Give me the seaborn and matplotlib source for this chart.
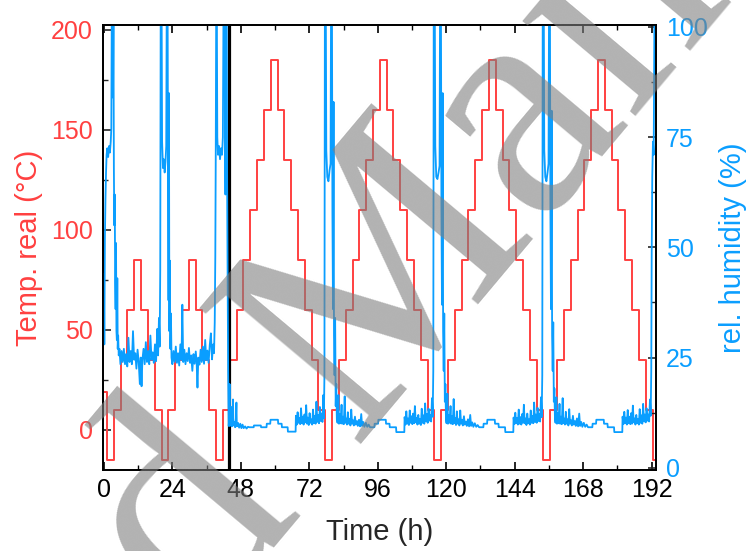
import numpy as np
import pandas as pd
import matplotlib
matplotlib.use("Agg")
import matplotlib.pyplot as plt
from matplotlib.ticker import MultipleLocator
import seaborn as sns

# temperature programme: setpoints (degC) held for a fixed dwell
temp_start_h = [0.0, 1.2]
temp_start_c = [19, -15]
first_step_h = 3.49
step_h = 2.39
small_cycle_c = [10, 35, 60, 85, 60, 35, 10, -15]
big_cycle_c = [10, 35, 60, 85, 110, 135, 160, 185, 160, 135, 110, 85, 60, 35, 10, -15]
end_h = 194.5

# relative humidity (%), (hour, value)
hum_small = [
    (0.0, 44), (0.15, 28), (0.35, 52), (0.55, 61), (0.75, 67), (0.95, 71), (1.2, 72.5), (1.5, 70.5),
    (1.8, 73), (2.1, 71.5), (2.4, 74), (2.6, 77), (2.75, 101), (3.05, 101), (3.2, 84), (3.35, 101),
    (3.5, 68), (3.65, 55), (3.8, 62), (3.95, 42), (4.1, 36), (4.25, 51), (4.4, 31), (4.55, 29),
    (4.7, 43), (4.85, 27), (5.0, 30), (5.2, 25.5), (5.45, 27),
    (5.8, 23.5), (6.2, 26.5), (6.6, 24), (7.0, 27), (7.4, 23.5), (7.8, 25.8), (8.2, 23), (8.6, 29.5),
    (9.0, 24), (9.4, 26.5), (9.8, 23.5), (10.2, 31), (10.6, 24.5), (11.0, 26), (11.4, 22.5), (11.8, 26.8),
    (12.2, 24), (12.6, 19), (12.9, 25), (13.2, 18.5), (13.5, 24.5), (13.9, 27), (14.3, 23.5), (14.7, 28.5),
    (15.1, 24), (15.5, 26.5), (15.9, 23.5), (16.3, 30), (16.7, 24.5), (17.1, 26.2), (17.5, 23.8), (17.9, 28),
    (18.3, 24.2), (18.7, 31.5), (19.0, 25.5), (19.3, 34), (19.55, 27.5),
    (19.75, 45), (19.9, 101), (20.25, 101), (20.4, 74), (20.7, 68), (21.0, 70), (21.3, 67), (21.6, 69.5),
    (21.85, 73), (22.0, 101), (22.35, 101), (22.5, 62), (22.65, 38), (22.8, 85), (22.95, 31), (23.1, 47),
    (23.3, 27), (23.5, 35), (23.7, 25),
    (24.0, 23.5), (24.4, 26.5), (24.8, 24), (25.2, 27.5), (25.6, 23.8), (26.0, 26), (26.4, 23.2), (26.8, 28),
    (27.2, 24.5), (27.5, 37), (27.8, 24), (28.2, 26.8), (28.6, 23.5), (29.0, 26), (29.4, 24.2), (29.8, 27.2),
    (30.2, 23.8), (30.6, 25.5), (31.0, 22), (31.4, 25.8), (31.8, 23.6), (32.2, 26.4), (32.5, 24), (32.8, 18.2),
    (33.1, 25), (33.5, 23.4), (33.9, 26.8), (34.3, 24), (34.7, 27.5), (35.1, 23.6), (35.5, 29), (35.9, 24.4),
    (36.3, 26.6), (36.7, 23.8), (37.1, 27.8), (37.5, 30.5), (37.9, 24.6), (38.3, 28), (38.6, 26),
    (38.85, 33), (39.05, 48), (39.2, 70), (39.35, 101), (39.6, 101), (39.75, 75), (40.0, 71), (40.35, 73),
    (40.7, 70), (41.05, 72.5), (41.4, 71), (41.7, 75), (41.9, 101), (42.3, 101), (42.45, 78), (42.6, 62),
    (42.8, 101), (43.05, 101), (43.2, 64), (43.4, 40), (43.55, 22), (43.75, 9.5),
]
hum_cycle1 = [
    (43.9, 11), (44.05, 19), (44.2, 9.5), (44.5, 10.8), (44.7, 13.8), (44.85, 9.4), (45.1, 10.5), (45.25, 15.5),
    (45.4, 9.6), (45.7, 10.4), (46.0, 9.2), (46.3, 11.5), (46.45, 14.8), (46.6, 9.4), (47.0, 10.2), (47.4, 9.1),
    (47.8, 10.0), (48.2, 9.0), (48.6, 9.8), (49.0, 9.0), (49.5, 9.4), (50.0, 8.9), (50.5, 9.3),
    (51.0, 9.2), (52.5, 9.2), (52.6, 9.6), (55.0, 9.6), (55.1, 9.2), (57.0, 9.2), (57.1, 10.0), (58.3, 10.0),
    (58.4, 10.9), (61.0, 10.9), (61.1, 10.0), (62.3, 10.0), (62.4, 9.2), (64.4, 9.2), (64.5, 8.2), (67.2, 8.2),
    (67.3, 11.8), (67.6, 9.8), (67.9, 12.6), (68.2, 10.2), (68.5, 11.3), (68.8, 9.9), (69.1, 13.5), (69.4, 10.1),
    (69.7, 11.6), (70.0, 9.8), (70.3, 12.1), (70.6, 10.3), (70.9, 14.2), (71.2, 10.0), (71.5, 11.4), (71.8, 9.7),
    (72.1, 12.4), (72.4, 10.2), (72.7, 11.0), (73.0, 9.8), (73.3, 13.2), (73.6, 10.1), (73.9, 11.8), (74.2, 10.0),
    (74.5, 15.0), (74.8, 10.4), (75.1, 12.0), (75.4, 10.1), (75.7, 13.8), (76.0, 10.6), (76.3, 12.3), (76.6, 10.4),
    (76.9, 16.5), (77.1, 11.2),
    (77.3, 21), (77.45, 101), (77.8, 101), (77.95, 72), (78.3, 66), (78.7, 65), (79.1, 67.5), (79.45, 69),
    (79.6, 101), (79.95, 101), (80.1, 58), (80.3, 36), (80.5, 83), (80.65, 30), (80.85, 21), (81.05, 34),
    (81.25, 14), (81.45, 19), (81.65, 11),
]
hum_cycle2 = [
    (81.9, 10.2), (82.2, 16.5), (82.4, 10.0), (82.7, 12.2), (83.0, 10.1), (83.3, 14.3), (83.5, 10.0), (83.8, 11.6),
    (84.1, 9.9), (84.4, 16.2), (84.6, 10.2), (84.9, 11.2), (85.2, 9.8), (85.5, 12.6), (85.8, 10.0), (86.1, 11.1),
    (86.4, 9.6), (86.7, 13.2), (87.0, 10.0), (87.3, 10.8), (87.6, 9.6), (88.0, 11.6), (88.3, 9.8), (88.7, 10.6),
    (89.0, 9.5), (89.4, 10.9), (89.8, 9.4), (90.2, 12.2), (90.5, 9.5), (90.9, 10.4), (91.3, 9.3), (91.8, 10.2),
    (92.3, 9.3), (92.8, 9.8),
    (93.3, 9.2), (94.8, 9.2), (94.9, 10.0), (96.1, 10.0), (96.2, 10.9), (98.8, 10.9), (98.9, 10.0), (100.1, 10.0),
    (100.2, 9.2), (102.4, 9.2), (102.5, 8.1), (105.3, 8.1),
    (105.4, 11.5), (105.7, 9.8), (106.0, 12.8), (106.3, 10.0), (106.6, 11.2), (106.9, 9.7), (107.2, 13.0), (107.5, 10.2),
    (107.8, 11.7), (108.1, 9.9), (108.4, 12.3), (108.7, 10.1), (109.0, 14.0), (109.3, 10.3), (109.6, 11.3), (109.9, 9.8),
    (110.2, 12.0), (110.5, 10.0), (110.8, 11.1), (111.1, 9.7), (111.4, 13.4), (111.7, 10.2), (112.0, 11.9), (112.3, 10.0),
    (112.6, 14.6), (112.9, 10.5), (113.2, 12.2), (113.5, 10.2), (113.8, 13.4), (114.1, 10.7), (114.4, 12.0), (114.7, 10.5),
    (115.0, 15.8), (115.25, 11.6),
    (115.45, 22), (115.6, 101), (116.0, 101), (116.15, 73), (116.5, 66), (116.9, 65.5), (117.3, 67), (117.65, 68.5),
    (117.8, 101), (118.15, 101), (118.3, 60), (118.5, 37), (118.75, 85), (118.9, 31), (119.1, 22), (119.3, 35),
    (119.5, 15), (119.7, 19), (119.9, 11),
]
hum_cycle3 = [
    (120.1, 10.1), (120.4, 16.8), (120.6, 10.0), (120.9, 12.0), (121.2, 10.2), (121.5, 14.0), (121.7, 10.0), (122.0, 11.8),
    (122.3, 9.9), (122.6, 15.6), (122.8, 10.1), (123.1, 11.3), (123.4, 9.7), (123.7, 12.8), (124.0, 10.0), (124.3, 11.0),
    (124.6, 9.6), (124.9, 13.0), (125.2, 10.0), (125.5, 10.9), (125.8, 9.6), (126.2, 11.7), (126.5, 9.8), (126.9, 10.5),
    (127.2, 9.5), (127.6, 11.0), (128.0, 9.4), (128.4, 12.0), (128.7, 9.5), (129.1, 10.3), (129.5, 9.3), (130.0, 10.1),
    (130.5, 9.3), (131.0, 9.7),
    (131.5, 9.2), (133.0, 9.2), (133.1, 10.0), (134.3, 10.0), (134.4, 10.9), (137.0, 10.9), (137.1, 10.0), (138.3, 10.0),
    (138.4, 9.2), (140.6, 9.2), (140.7, 8.1), (143.5, 8.1),
    (143.6, 11.4), (143.9, 9.9), (144.2, 12.5), (144.5, 10.1), (144.8, 11.3), (145.1, 9.8), (145.4, 13.2), (145.7, 10.0),
    (146.0, 11.5), (146.3, 9.8), (146.6, 12.2), (146.9, 10.2), (147.2, 14.3), (147.5, 10.1), (147.8, 11.2), (148.1, 9.7),
    (148.4, 12.3), (148.7, 10.1), (149.0, 11.0), (149.3, 9.8), (149.6, 13.0), (149.9, 10.2), (150.2, 11.8), (150.5, 10.1),
    (150.8, 14.8), (151.1, 10.4), (151.4, 12.1), (151.7, 10.2), (152.0, 13.6), (152.3, 10.6), (152.6, 12.2), (152.9, 10.5),
    (153.2, 16.0), (153.45, 11.5),
    (153.65, 21), (153.8, 101), (154.2, 101), (154.35, 72), (154.7, 66), (155.1, 65), (155.5, 67), (155.85, 69),
    (156.0, 101), (156.35, 101), (156.5, 59), (156.7, 36), (156.95, 81), (157.1, 30), (157.3, 22), (157.5, 33),
    (157.7, 15), (157.9, 18), (158.1, 11),
]
hum_cycle4 = [
    (158.3, 10.2), (158.6, 16.0), (158.8, 10.0), (159.1, 12.4), (159.4, 10.1), (159.7, 14.5), (159.9, 10.0), (160.2, 11.6),
    (160.5, 9.9), (160.8, 15.8), (161.0, 10.1), (161.3, 11.2), (161.6, 9.8), (161.9, 12.7), (162.2, 10.0), (162.5, 11.0),
    (162.8, 9.6), (163.1, 13.3), (163.4, 10.0), (163.7, 10.8), (164.0, 9.6), (164.4, 11.8), (164.7, 9.8), (165.1, 10.6),
    (165.4, 9.5), (165.8, 11.2), (166.2, 9.4), (166.6, 12.3), (166.9, 9.5), (167.3, 10.4), (167.7, 9.3), (168.2, 10.2),
    (168.7, 9.3), (169.2, 9.8),
    (169.7, 9.2), (171.2, 9.2), (171.3, 10.0), (172.5, 10.0), (172.6, 10.9), (175.2, 10.9), (175.3, 10.0), (176.5, 10.0),
    (176.6, 9.2), (178.8, 9.2), (178.9, 8.1), (181.7, 8.1),
    (181.8, 11.6), (182.1, 9.9), (182.4, 12.7), (182.7, 10.1), (183.0, 11.4), (183.3, 9.8), (183.6, 13.1), (183.9, 10.1),
    (184.2, 11.6), (184.5, 9.9), (184.8, 12.4), (185.1, 10.0), (185.4, 14.1), (185.7, 10.3), (186.0, 11.2), (186.3, 9.8),
    (186.6, 12.0), (186.9, 10.1), (187.2, 11.1), (187.5, 9.8), (187.8, 13.3), (188.1, 10.2), (188.4, 11.9), (188.7, 10.0),
    (189.0, 14.5), (189.3, 10.5), (189.6, 12.1), (189.9, 10.3), (190.2, 13.5), (190.5, 10.7), (190.8, 12.1), (191.1, 10.5),
    (191.4, 15.5), (191.65, 11.8),
    (191.85, 22), (192.0, 48), (192.2, 66), (192.45, 74), (192.7, 71), (192.95, 101), (193.3, 101), (193.6, 101),
]

phase_change_h = 43.7
x_ticks = [0, 24, 48, 72, 96, 120, 144, 168, 192]
temp_ticks = [0, 50, 100, 150, 200]
hum_ticks = [0, 25, 50, 75, 100]

RED = "#FF4040"
BLUE = "#0A9EFF"

# build the step profile
setpoints = small_cycle_c * 2 + big_cycle_c * 4
step_starts = first_step_h + step_h * np.arange(len(setpoints))
temp = pd.DataFrame({
    "time": temp_start_h + list(step_starts) + [end_h],
    "temp": temp_start_c + setpoints + [setpoints[-1]],
})
hum = pd.DataFrame(hum_small + hum_cycle1 + hum_cycle2 + hum_cycle3 + hum_cycle4,
                   columns=["time", "rh"])

sns.set_theme(style="ticks")
plt.rcParams["font.family"] = ["Liberation Sans", "DejaVu Sans"]

fig = plt.figure(figsize=(7.5, 5.51), dpi=100)
ax = fig.add_axes([0.137, 0.147, 0.738, 0.808])
ax2 = ax.twinx()

sns.lineplot(data=temp, x="time", y="temp", ax=ax, color=RED, lw=1.4,
             drawstyle="steps-post", estimator=None, sort=False)
sns.lineplot(data=hum, x="time", y="rh", ax=ax2, color=BLUE, lw=1.3,
             estimator=None, sort=False)
ax.axvline(phase_change_h, color="black", lw=2.3, zorder=5)

ax.set_xlim(-0.4, 193.6)
ax.set_ylim(-20, 202.5)
ax2.set_ylim(-0.5, 100.5)

ax.set_xticks(x_ticks)
ax.xaxis.set_minor_locator(MultipleLocator(12))
ax.set_yticks(temp_ticks)
ax.yaxis.set_minor_locator(MultipleLocator(25))
ax2.set_yticks(hum_ticks)
ax2.yaxis.set_minor_locator(MultipleLocator(12.5))

ax.tick_params(axis="x", which="both", direction="in", top=True, labelsize=18, colors="black", pad=6)
ax.tick_params(axis="y", which="both", direction="in", labelsize=18, labelcolor=RED, pad=7)
ax2.tick_params(axis="y", which="both", direction="in", labelsize=18, labelcolor=BLUE, pad=7)
for a in (ax, ax2):
    a.tick_params(which="major", length=6, width=1.2)
    a.tick_params(which="minor", length=3.5, width=1.0)
    for s in a.spines.values():
        s.set_linewidth(1.3)
        s.set_color("black")

ax.set_xlabel("Time (h)", fontsize=21, labelpad=11)
ax.set_ylabel("Temp. real (°C)", fontsize=21, color=RED, labelpad=6)
ax2.set_ylabel("rel. humidity (%)", fontsize=21, color=BLUE, labelpad=8)

# watermark of the source document
fig.text(0.467, 0.392, "Accepted Manuscript", fontsize=232, family="Liberation Serif",
         color="#7f7f7f", alpha=0.6, rotation=50, ha="center", va="center",
         rotation_mode="anchor", zorder=20)

fig.savefig("out.png", dpi=100)
